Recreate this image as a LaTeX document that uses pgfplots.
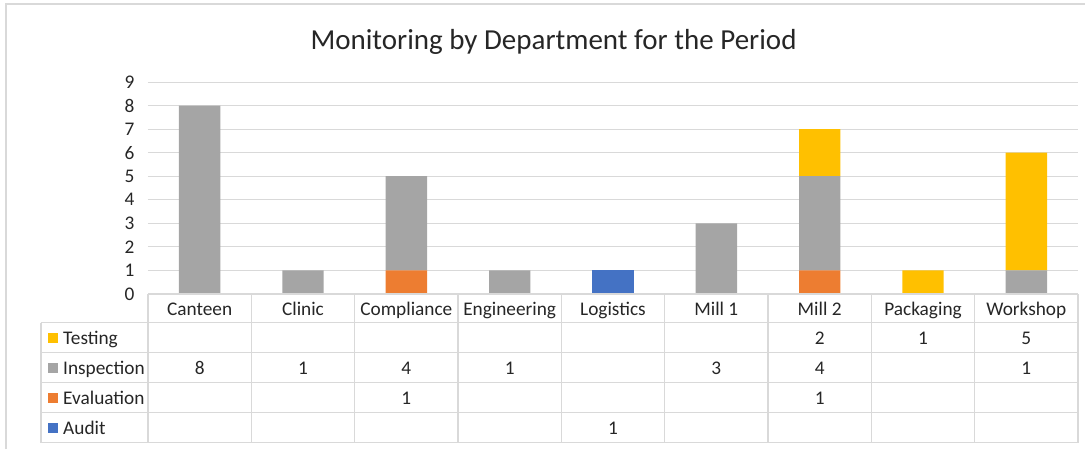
\documentclass[border=0pt]{standalone}
\usepackage{pgfplots}
\pgfplotsset{compat=1.18}
\usepackage{fontspec}
\setmainfont{Carlito}
\definecolor{cTest}{HTML}{FFC000}
\definecolor{cInsp}{HTML}{A5A5A5}
\definecolor{cEval}{HTML}{ED7D31}
\definecolor{cAud}{HTML}{4472C4}
\definecolor{gridc}{HTML}{D9D9D9}
\definecolor{txt}{HTML}{262626}
\begin{document}
\begin{tikzpicture}[x=1pt,y=1pt]
\newcommand{\fs}{\fontsize{19.3}{21}\selectfont}
% page bounding box
\path (-148,-156) rectangle (938,294);
% outer frame (top and left)
\draw[gridc,line width=1.2pt] (-142,-155) -- (-142,290) -- (937,290);
\begin{axis}[
  at={(0,0)}, anchor=south west,
  scale only axis, width=930pt, height=212pt,
  xmin=-0.5, xmax=8.5, ymin=0, ymax=9,
  ybar stacked, bar width=0.4,
  axis line style={draw=none},
  xtick=\empty,
  ytick={0,1,...,9},
  ymajorgrids, grid style={gridc, line width=1pt},
  major tick length=0pt,
  tick label style={font=\fs, text=txt},
  yticklabel style={xshift=-10pt},
  /pgf/number format/assume math mode=true,
  clip=false,
]
\addplot[fill=cAud, draw=none] coordinates {(0,0) (1,0) (2,0) (3,0) (4,1) (5,0) (6,0) (7,0) (8,0)};
\addplot[fill=cEval, draw=none] coordinates {(0,0) (1,0) (2,1) (3,0) (4,0) (5,0) (6,1) (7,0) (8,0)};
\addplot[fill=cInsp, draw=none] coordinates {(0,8) (1,1) (2,4) (3,1) (4,0) (5,3) (6,4) (7,0) (8,1)};
\addplot[fill=cTest, draw=none] coordinates {(0,0) (1,0) (2,0) (3,0) (4,0) (5,0) (6,2) (7,1) (8,5)};
\end{axis}
% title
\node[anchor=base, font=\fontsize{29}{31}\selectfont, text=txt] at (405.5,244) {Monitoring by Department for the Period};
% data table grid
\begin{scope}[gridc, line width=1.2pt]
\draw (0,0) -- (930,0);
\foreach \yy in {-28.5,-58.5,-88.5,-118.5,-148.5} \draw (-107,\yy) -- (930,\yy);
\foreach \i in {0,...,9} \draw ({103.333*\i},0) -- ({103.333*\i},-148.5);
\draw (-107,-28.5) -- (-107,-148.5);
\end{scope}
% header
\foreach \name [count=\k from 0] in {Canteen,Clinic,Compliance,Engineering,Logistics,Mill 1,Mill 2,Packaging,Workshop}
  \node[anchor=base, font=\fs, text=txt, inner sep=0pt] at ({103.333*(\k+0.5)},-21) {\name};
% legend keys and row labels
\foreach \lab/\col/\yc in {Testing/cTest/-43.5, Inspection/cInsp/-73.5, Evaluation/cEval/-103.5, Audit/cAud/-133.5}{
  \fill[\col] (-100,\yc-5) rectangle (-90,\yc+5);
  \node[anchor=base west, font=\fs, text=txt, inner sep=0pt] at (-85,\yc-6.5) {\lab};
}
% table values
\foreach \k/\v in {6/2,7/1,8/5}
  \node[anchor=base, font=\fs, text=txt, inner sep=0pt] at ({103.333*(\k+0.5)},-50) {\v};
\foreach \k/\v in {0/8,1/1,2/4,3/1,5/3,6/4,8/1}
  \node[anchor=base, font=\fs, text=txt, inner sep=0pt] at ({103.333*(\k+0.5)},-80) {\v};
\foreach \k/\v in {2/1,6/1}
  \node[anchor=base, font=\fs, text=txt, inner sep=0pt] at ({103.333*(\k+0.5)},-110) {\v};
\foreach \k/\v in {4/1}
  \node[anchor=base, font=\fs, text=txt, inner sep=0pt] at ({103.333*(\k+0.5)},-140) {\v};
\end{tikzpicture}
\end{document}
